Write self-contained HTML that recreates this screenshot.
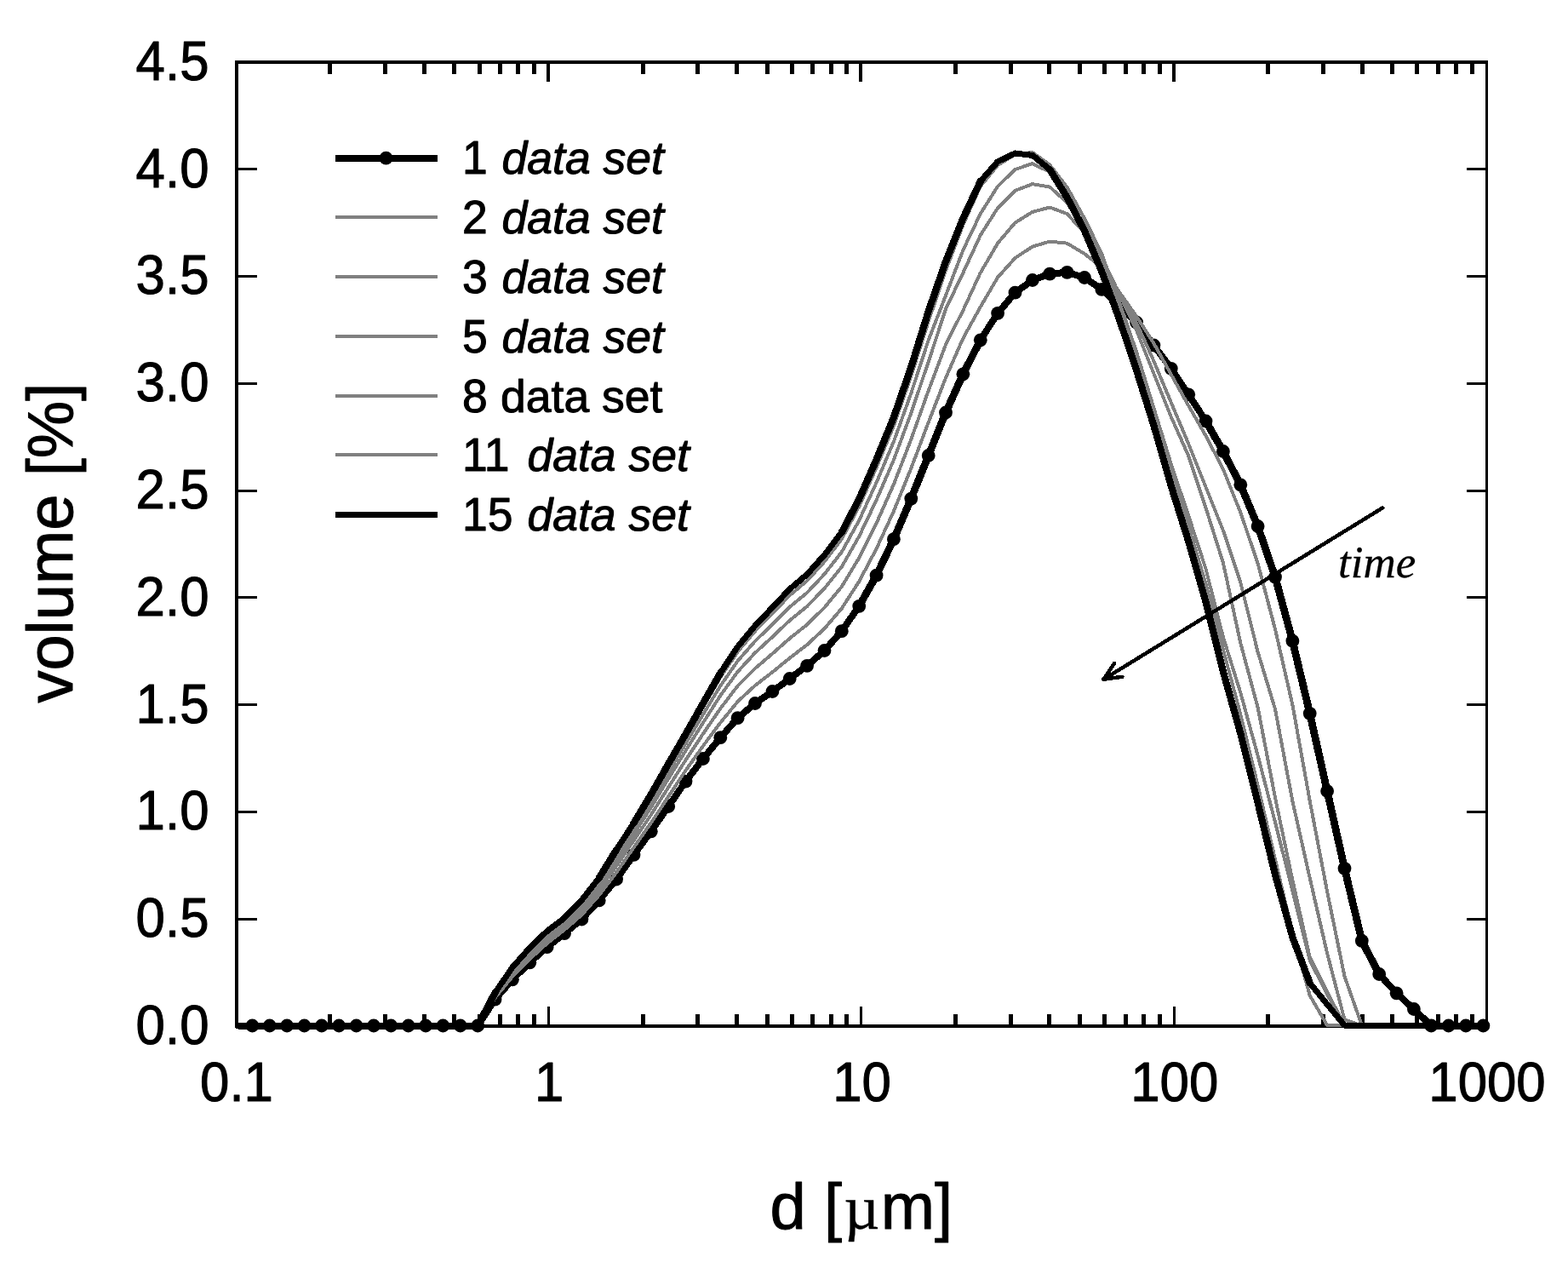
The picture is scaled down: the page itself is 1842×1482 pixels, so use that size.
<!DOCTYPE html>
<html lang="en"><head><meta charset="utf-8"><title>Volume distribution over time</title>
<style>
html,body{margin:0;padding:0;background:#fff;}
body{width:1842px;height:1482px;overflow:hidden;}
svg{display:block;}
text{font-family:"Liberation Sans",sans-serif;fill:#000;stroke:#000;stroke-width:1.0px;stroke-linejoin:round;}
.tk{font-size:61.8px;}
.lg{font-size:53.5px;}
.ti{font-size:76px;}
.it{font-style:italic;}
.tm{font-family:"Liberation Serif",serif;font-style:italic;font-size:53px;stroke-width:0.3px;}
.mu{font-family:"Liberation Serif",serif;stroke-width:0.4px;}
</style></head><body>
<svg width="1842" height="1482" viewBox="0 0 1842 1482">
<rect x="0" y="0" width="1842" height="1482" fill="#fff"/>
<g shape-rendering="crispEdges" fill="#000">
<rect x="276" y="71" width="4" height="1136"/>
<rect x="276" y="71" width="1472" height="4"/>
<rect x="1745" y="71" width="3" height="1136"/>
<rect x="276" y="1203" width="1472" height="4"/>
<rect x="280" y="1078" width="22" height="3"/>
<rect x="1723" y="1078" width="22" height="3"/>
<rect x="280" y="952" width="22" height="3"/>
<rect x="1723" y="952" width="22" height="3"/>
<rect x="280" y="826" width="22" height="3"/>
<rect x="1723" y="826" width="22" height="3"/>
<rect x="280" y="700" width="22" height="3"/>
<rect x="1723" y="700" width="22" height="3"/>
<rect x="280" y="575" width="22" height="3"/>
<rect x="1723" y="575" width="22" height="3"/>
<rect x="280" y="449" width="22" height="3"/>
<rect x="1723" y="449" width="22" height="3"/>
<rect x="280" y="323" width="22" height="3"/>
<rect x="1723" y="323" width="22" height="3"/>
<rect x="280" y="197" width="22" height="3"/>
<rect x="1723" y="197" width="22" height="3"/>
<rect x="643" y="1182" width="3" height="21"/>
<rect x="642" y="75" width="4" height="21"/>
<rect x="1010" y="1182" width="3" height="21"/>
<rect x="1009" y="75" width="4" height="21"/>
<rect x="1378" y="1182" width="3" height="21"/>
<rect x="1377" y="75" width="4" height="21"/>
<rect x="385" y="1191" width="5" height="12"/>
<rect x="385" y="75" width="5" height="12"/>
<rect x="450" y="1191" width="5" height="12"/>
<rect x="450" y="75" width="5" height="12"/>
<rect x="496" y="1191" width="5" height="12"/>
<rect x="496" y="75" width="5" height="12"/>
<rect x="531" y="1191" width="5" height="12"/>
<rect x="531" y="75" width="5" height="12"/>
<rect x="561" y="1191" width="5" height="12"/>
<rect x="561" y="75" width="5" height="12"/>
<rect x="585" y="1191" width="5" height="12"/>
<rect x="585" y="75" width="5" height="12"/>
<rect x="606" y="1191" width="5" height="12"/>
<rect x="606" y="75" width="5" height="12"/>
<rect x="625" y="1191" width="5" height="12"/>
<rect x="625" y="75" width="5" height="12"/>
<rect x="753" y="1191" width="5" height="12"/>
<rect x="753" y="75" width="5" height="12"/>
<rect x="817" y="1191" width="5" height="12"/>
<rect x="817" y="75" width="5" height="12"/>
<rect x="863" y="1191" width="5" height="12"/>
<rect x="863" y="75" width="5" height="12"/>
<rect x="899" y="1191" width="5" height="12"/>
<rect x="899" y="75" width="5" height="12"/>
<rect x="928" y="1191" width="5" height="12"/>
<rect x="928" y="75" width="5" height="12"/>
<rect x="952" y="1191" width="5" height="12"/>
<rect x="952" y="75" width="5" height="12"/>
<rect x="974" y="1191" width="5" height="12"/>
<rect x="974" y="75" width="5" height="12"/>
<rect x="992" y="1191" width="5" height="12"/>
<rect x="992" y="75" width="5" height="12"/>
<rect x="1120" y="1191" width="5" height="12"/>
<rect x="1120" y="75" width="5" height="12"/>
<rect x="1185" y="1191" width="5" height="12"/>
<rect x="1185" y="75" width="5" height="12"/>
<rect x="1230" y="1191" width="5" height="12"/>
<rect x="1230" y="75" width="5" height="12"/>
<rect x="1266" y="1191" width="5" height="12"/>
<rect x="1266" y="75" width="5" height="12"/>
<rect x="1295" y="1191" width="5" height="12"/>
<rect x="1295" y="75" width="5" height="12"/>
<rect x="1320" y="1191" width="5" height="12"/>
<rect x="1320" y="75" width="5" height="12"/>
<rect x="1341" y="1191" width="5" height="12"/>
<rect x="1341" y="75" width="5" height="12"/>
<rect x="1360" y="1191" width="5" height="12"/>
<rect x="1360" y="75" width="5" height="12"/>
<rect x="1487" y="1191" width="5" height="12"/>
<rect x="1487" y="75" width="5" height="12"/>
<rect x="1552" y="1191" width="5" height="12"/>
<rect x="1552" y="75" width="5" height="12"/>
<rect x="1598" y="1191" width="5" height="12"/>
<rect x="1598" y="75" width="5" height="12"/>
<rect x="1633" y="1191" width="5" height="12"/>
<rect x="1633" y="75" width="5" height="12"/>
<rect x="1662" y="1191" width="5" height="12"/>
<rect x="1662" y="75" width="5" height="12"/>
<rect x="1687" y="1191" width="5" height="12"/>
<rect x="1687" y="75" width="5" height="12"/>
<rect x="1708" y="1191" width="5" height="12"/>
<rect x="1708" y="75" width="5" height="12"/>
<rect x="1727" y="1191" width="5" height="12"/>
<rect x="1727" y="75" width="5" height="12"/>
</g>
<g shape-rendering="crispEdges">
<polyline points="280.0,1204.5 296.4,1204.5 316.8,1204.5 337.1,1204.5 357.5,1204.5 377.9,1204.5 398.2,1204.5 418.6,1204.5 439.0,1204.5 459.3,1204.5 479.7,1204.5 500.1,1204.5 520.4,1204.5 540.8,1204.5 561.2,1204.5 581.5,1173.7 601.9,1150.3 622.3,1130.3 642.6,1112.2 663.0,1096.2 683.4,1079.5 703.7,1057.4 724.1,1032.5 744.5,1003.8 764.8,976.3 785.2,947.0 805.5,917.6 825.9,891.0 846.3,866.2 866.6,843.2 887.0,826.0 907.4,812.0 927.7,797.0 948.1,781.8 968.5,764.0 988.8,741.2 1009.2,711.8 1029.6,675.7 1049.9,633.2 1070.3,585.6 1090.7,535.0 1111.0,484.5 1131.4,439.3 1151.8,399.3 1172.1,367.8 1192.5,343.7 1212.9,329.0 1233.2,321.6 1253.6,319.8 1274.0,326.0 1294.3,339.8 1314.7,358.3 1335.1,378.7 1355.4,405.5 1375.8,432.8 1396.2,463.3 1416.5,494.5 1436.9,530.0 1457.3,569.3 1477.6,618.0 1498.0,677.6 1518.4,752.7 1538.7,837.8 1559.1,929.0 1579.5,1019.8 1599.8,1104.8 1620.2,1144.0 1640.6,1166.3 1660.9,1185.0 1681.3,1204.5 1701.7,1204.5 1722.0,1204.5 1742.4,1204.5" fill="none" stroke="#000" stroke-width="8" stroke-linejoin="round" stroke-linecap="round"/>
<polyline points="1009.2,711.8 1029.6,675.7 1049.9,633.2 1070.3,585.6 1090.7,535.0 1111.0,484.5 1131.4,439.3 1151.8,399.3" fill="none" stroke="#000" stroke-width="8.8" stroke-linejoin="round" stroke-linecap="round"/>
<polyline points="1416.5,494.5 1436.9,530.0 1457.3,569.3 1477.6,618.0 1498.0,677.6 1518.4,752.7 1538.7,837.8 1559.1,929.0 1579.5,1019.8 1599.8,1104.8 1620.2,1144.0" fill="none" stroke="#000" stroke-width="8.8" stroke-linejoin="round" stroke-linecap="round"/>
<g fill="#000" shape-rendering="geometricPrecision">
<circle cx="296.4" cy="1204.5" r="7.9"/>
<circle cx="316.8" cy="1204.5" r="7.9"/>
<circle cx="337.1" cy="1204.5" r="7.9"/>
<circle cx="357.5" cy="1204.5" r="7.9"/>
<circle cx="377.9" cy="1204.5" r="7.9"/>
<circle cx="398.2" cy="1204.5" r="7.9"/>
<circle cx="418.6" cy="1204.5" r="7.9"/>
<circle cx="439.0" cy="1204.5" r="7.9"/>
<circle cx="459.3" cy="1204.5" r="7.9"/>
<circle cx="479.7" cy="1204.5" r="7.9"/>
<circle cx="500.1" cy="1204.5" r="7.9"/>
<circle cx="520.4" cy="1204.5" r="7.9"/>
<circle cx="540.8" cy="1204.5" r="7.9"/>
<circle cx="561.2" cy="1204.5" r="7.9"/>
<circle cx="581.5" cy="1173.7" r="7.9"/>
<circle cx="601.9" cy="1150.3" r="7.9"/>
<circle cx="622.3" cy="1130.3" r="7.9"/>
<circle cx="642.6" cy="1112.2" r="7.9"/>
<circle cx="663.0" cy="1096.2" r="7.9"/>
<circle cx="683.4" cy="1079.5" r="7.9"/>
<circle cx="703.7" cy="1057.4" r="7.9"/>
<circle cx="724.1" cy="1032.5" r="7.9"/>
<circle cx="744.5" cy="1003.8" r="7.9"/>
<circle cx="764.8" cy="976.3" r="7.9"/>
<circle cx="785.2" cy="947.0" r="7.9"/>
<circle cx="805.5" cy="917.6" r="7.9"/>
<circle cx="825.9" cy="891.0" r="7.9"/>
<circle cx="846.3" cy="866.2" r="7.9"/>
<circle cx="866.6" cy="843.2" r="7.9"/>
<circle cx="887.0" cy="826.0" r="7.9"/>
<circle cx="907.4" cy="812.0" r="7.9"/>
<circle cx="927.7" cy="797.0" r="7.9"/>
<circle cx="948.1" cy="781.8" r="7.9"/>
<circle cx="968.5" cy="764.0" r="7.9"/>
<circle cx="988.8" cy="741.2" r="7.9"/>
<circle cx="1009.2" cy="711.8" r="7.9"/>
<circle cx="1029.6" cy="675.7" r="7.9"/>
<circle cx="1049.9" cy="633.2" r="7.9"/>
<circle cx="1070.3" cy="585.6" r="7.9"/>
<circle cx="1090.7" cy="535.0" r="7.9"/>
<circle cx="1111.0" cy="484.5" r="7.9"/>
<circle cx="1131.4" cy="439.3" r="7.9"/>
<circle cx="1151.8" cy="399.3" r="7.9"/>
<circle cx="1172.1" cy="367.8" r="7.9"/>
<circle cx="1192.5" cy="343.7" r="7.9"/>
<circle cx="1212.9" cy="329.0" r="7.9"/>
<circle cx="1233.2" cy="321.6" r="7.9"/>
<circle cx="1253.6" cy="319.8" r="7.9"/>
<circle cx="1274.0" cy="326.0" r="7.9"/>
<circle cx="1294.3" cy="339.8" r="7.9"/>
<circle cx="1314.7" cy="358.3" r="7.9"/>
<circle cx="1335.1" cy="378.7" r="7.9"/>
<circle cx="1355.4" cy="405.5" r="7.9"/>
<circle cx="1375.8" cy="432.8" r="7.9"/>
<circle cx="1396.2" cy="463.3" r="7.9"/>
<circle cx="1416.5" cy="494.5" r="7.9"/>
<circle cx="1436.9" cy="530.0" r="7.9"/>
<circle cx="1457.3" cy="569.3" r="7.9"/>
<circle cx="1477.6" cy="618.0" r="7.9"/>
<circle cx="1498.0" cy="677.6" r="7.9"/>
<circle cx="1518.4" cy="752.7" r="7.9"/>
<circle cx="1538.7" cy="837.8" r="7.9"/>
<circle cx="1559.1" cy="929.0" r="7.9"/>
<circle cx="1579.5" cy="1019.8" r="7.9"/>
<circle cx="1599.8" cy="1104.8" r="7.9"/>
<circle cx="1620.2" cy="1144.0" r="7.9"/>
<circle cx="1640.6" cy="1166.3" r="7.9"/>
<circle cx="1660.9" cy="1185.0" r="7.9"/>
<circle cx="1681.3" cy="1204.5" r="7.9"/>
<circle cx="1701.7" cy="1204.5" r="7.9"/>
<circle cx="1722.0" cy="1204.5" r="7.9"/>
<circle cx="1742.4" cy="1204.5" r="7.9"/>
</g>
<polyline points="296.4,1204.5 316.8,1204.5 337.1,1204.5 357.5,1204.5 377.9,1204.5 398.2,1204.5 418.6,1204.5 439.0,1204.5 459.3,1204.5 479.7,1204.5 500.1,1204.5 520.4,1204.5 540.8,1204.5 561.2,1204.5 581.5,1171.9 601.9,1147.0 622.3,1126.3 642.6,1107.9 663.0,1092.0 683.4,1074.3 703.7,1051.3 724.1,1024.6 744.5,995.2 764.8,966.3 785.2,935.5 805.5,904.8 825.9,876.0 846.3,848.7 866.6,823.9 887.0,805.0 907.4,789.3 927.7,772.8 948.1,757.1 968.5,738.2 988.8,714.5 1009.2,682.9 1029.6,644.4 1049.9,600.3 1070.3,550.0 1090.7,496.0 1111.0,443.7 1131.4,397.2 1151.8,360.4 1172.1,325.7 1192.5,303.0 1212.9,289.6 1233.2,283.6 1253.6,285.7 1274.0,298.0 1294.3,314.0 1314.7,342.6 1335.1,371.5 1355.4,403.2 1375.8,439.8 1396.2,476.4 1416.5,511.7 1436.9,551.0 1457.3,601.8 1477.6,661.6 1498.0,738.9 1518.4,827.9 1538.7,940.4 1559.1,1047.0 1579.5,1146.5 1599.8,1204.0 1620.2,1204.5 1640.6,1204.5 1660.9,1204.5 1681.3,1204.5 1701.7,1204.5 1722.0,1204.5 1742.4,1204.5" fill="none" stroke="#808080" stroke-width="4" stroke-linejoin="round" stroke-linecap="round"/>
<polyline points="296.4,1204.5 316.8,1204.5 337.1,1204.5 357.5,1204.5 377.9,1204.5 398.2,1204.5 418.6,1204.5 439.0,1204.5 459.3,1204.5 479.7,1204.5 500.1,1204.5 520.4,1204.5 540.8,1204.5 561.2,1204.5 581.5,1170.2 601.9,1143.9 622.3,1122.5 642.6,1103.8 663.0,1088.0 683.4,1069.4 703.7,1045.5 724.1,1017.0 744.5,987.0 764.8,956.8 785.2,924.5 805.5,892.6 825.9,861.8 846.3,832.0 866.6,805.5 887.0,785.0 907.4,767.6 927.7,749.7 948.1,733.5 968.5,713.5 988.8,688.9 1009.2,655.2 1029.6,614.4 1049.9,568.8 1070.3,516.0 1090.7,458.7 1111.0,404.6 1131.4,364.4 1151.8,320.3 1172.1,285.6 1192.5,261.5 1212.9,248.9 1233.2,243.5 1253.6,251.1 1274.0,273.4 1294.3,308.0 1314.7,343.4 1335.1,379.1 1355.4,423.9 1375.8,472.8 1396.2,521.1 1416.5,571.9 1436.9,622.9 1457.3,684.1 1477.6,765.6 1498.0,832.7 1518.4,941.0 1538.7,1031.0 1559.1,1119.5 1579.5,1197.4 1599.8,1204.5 1620.2,1204.5 1640.6,1204.5 1660.9,1204.5 1681.3,1204.5 1701.7,1204.5 1722.0,1204.5 1742.4,1204.5" fill="none" stroke="#808080" stroke-width="4" stroke-linejoin="round" stroke-linecap="round"/>
<polyline points="296.4,1204.5 316.8,1204.5 337.1,1204.5 357.5,1204.5 377.9,1204.5 398.2,1204.5 418.6,1204.5 439.0,1204.5 459.3,1204.5 479.7,1204.5 500.1,1204.5 520.4,1204.5 540.8,1204.5 561.2,1204.5 581.5,1168.7 601.9,1141.0 622.3,1119.1 642.6,1100.0 663.0,1084.4 683.4,1064.9 703.7,1040.2 724.1,1010.1 744.5,979.6 764.8,948.2 785.2,914.5 805.5,881.5 825.9,848.8 846.3,816.8 866.6,788.8 887.0,766.7 907.4,747.9 927.7,728.6 948.1,712.1 968.5,691.0 988.8,665.7 1009.2,630.0 1029.6,587.2 1049.9,540.1 1070.3,485.1 1090.7,424.8 1111.0,363.0 1131.4,320.3 1151.8,276.2 1172.1,244.2 1192.5,223.9 1212.9,216.1 1233.2,219.5 1253.6,238.0 1274.0,262.0 1294.3,302.0 1314.7,344.8 1335.1,388.0 1355.4,438.8 1375.8,489.6 1396.2,535.4 1416.5,596.4 1436.9,660.9 1457.3,755.2 1477.6,830.7 1498.0,936.8 1518.4,1033.7 1538.7,1124.1 1559.1,1164.9 1579.5,1204.0 1599.8,1204.5 1620.2,1204.5 1640.6,1204.5 1660.9,1204.5 1681.3,1204.5 1701.7,1204.5 1722.0,1204.5 1742.4,1204.5" fill="none" stroke="#808080" stroke-width="4" stroke-linejoin="round" stroke-linecap="round"/>
<polyline points="296.4,1204.5 316.8,1204.5 337.1,1204.5 357.5,1204.5 377.9,1204.5 398.2,1204.5 418.6,1204.5 439.0,1204.5 459.3,1204.5 479.7,1204.5 500.1,1204.5 520.4,1204.5 540.8,1204.5 561.2,1204.5 581.5,1167.5 601.9,1138.9 622.3,1116.5 642.6,1097.2 663.0,1081.6 683.4,1061.5 703.7,1036.3 724.1,1004.9 744.5,974.0 764.8,941.7 785.2,907.0 805.5,873.1 825.9,839.0 846.3,805.4 866.6,776.2 887.0,753.0 907.4,733.1 927.7,712.8 948.1,696.0 968.5,674.2 988.8,648.2 1009.2,611.2 1029.6,566.7 1049.9,518.6 1070.3,461.9 1090.7,399.4 1111.0,347.0 1131.4,293.6 1151.8,250.9 1172.1,218.8 1192.5,199.0 1212.9,192.1 1233.2,202.0 1253.6,222.0 1274.0,257.0 1294.3,298.5 1314.7,353.8 1335.1,413.2 1355.4,479.0 1375.8,545.1 1396.2,605.6 1416.5,668.1 1436.9,748.1 1457.3,813.4 1477.6,887.2 1498.0,965.5 1518.4,1046.5 1538.7,1127.6 1559.1,1167.9 1579.5,1204.1 1599.8,1204.5 1620.2,1204.5 1640.6,1204.5 1660.9,1204.5 1681.3,1204.5 1701.7,1204.5 1722.0,1204.5 1742.4,1204.5" fill="none" stroke="#808080" stroke-width="4" stroke-linejoin="round" stroke-linecap="round"/>
<polyline points="296.4,1204.5 316.8,1204.5 337.1,1204.5 357.5,1204.5 377.9,1204.5 398.2,1204.5 418.6,1204.5 439.0,1204.5 459.3,1204.5 479.7,1204.5 500.1,1204.5 520.4,1204.5 540.8,1204.5 561.2,1204.5 581.5,1166.5 601.9,1137.0 622.3,1114.2 642.6,1094.8 663.0,1079.3 683.4,1058.6 703.7,1032.8 724.1,1000.4 744.5,969.1 764.8,936.0 785.2,900.5 805.5,865.9 825.9,830.5 846.3,795.5 866.6,765.4 887.0,741.2 907.4,720.3 927.7,699.2 948.1,682.0 968.5,659.6 988.8,633.1 1009.2,594.8 1029.6,549.0 1049.9,500.0 1070.3,441.8 1090.7,377.4 1111.0,317.7 1131.4,264.0 1151.8,218.8 1172.1,194.0 1192.5,181.4 1212.9,179.0 1233.2,193.5 1253.6,220.0 1274.0,256.5 1294.3,298.0 1314.7,358.9 1335.1,421.7 1355.4,485.8 1375.8,552.4 1396.2,617.7 1416.5,685.5 1436.9,762.9 1457.3,839.0 1477.6,922.4 1498.0,1009.3 1518.4,1096.0 1538.7,1169.0 1559.1,1204.1 1579.5,1204.5 1599.8,1204.5 1620.2,1204.5 1640.6,1204.5 1660.9,1204.5 1681.3,1204.5 1701.7,1204.5 1722.0,1204.5 1742.4,1204.5" fill="none" stroke="#808080" stroke-width="4" stroke-linejoin="round" stroke-linecap="round"/>
<polyline points="296.4,1204.5 316.8,1204.5 337.1,1204.5 357.5,1204.5 377.9,1204.5 398.2,1204.5 418.6,1204.5 439.0,1204.5 459.3,1204.5 479.7,1204.5 500.1,1204.5 520.4,1204.5 540.8,1204.5 561.2,1204.5 581.5,1166.0 601.9,1136.0 622.3,1113.0 642.6,1093.5 663.0,1078.0 683.4,1057.0 703.7,1031.0 724.1,998.0 744.5,966.5 764.8,933.0 785.2,897.0 805.5,862.0 825.9,826.0 846.3,790.2 866.6,759.5 887.0,734.8 907.4,713.4 927.7,691.8 948.1,674.5 968.5,651.7 988.8,625.0 1009.2,586.0 1029.6,539.5 1049.9,490.0 1070.3,431.0 1090.7,365.5 1111.0,307.0 1131.4,256.2 1151.8,212.8 1172.1,189.7 1192.5,180.0 1212.9,182.4 1233.2,199.0 1253.6,232.0 1274.0,271.0 1294.3,319.0 1314.7,374.2 1335.1,434.9 1355.4,499.7 1375.8,570.9 1396.2,635.9 1416.5,706.9 1436.9,788.7 1457.3,861.5 1477.6,942.8 1498.0,1027.2 1518.4,1100.6 1538.7,1154.3 1559.1,1179.4 1579.5,1204.2 1599.8,1204.5 1620.2,1204.5 1640.6,1204.5 1660.9,1204.5 1681.3,1204.5 1701.7,1204.5 1722.0,1204.5 1742.4,1204.5" fill="none" stroke="#000" stroke-width="7" stroke-linejoin="round" stroke-linecap="round"/>
<polyline points="561.2,1204.5 581.5,1166.0" fill="none" stroke="#000" stroke-width="8.2" stroke-linejoin="round" stroke-linecap="round"/>
<polyline points="703.7,1031.0 724.1,998.0" fill="none" stroke="#000" stroke-width="8.2" stroke-linejoin="round" stroke-linecap="round"/>
<polyline points="744.5,966.5 764.8,933.0 785.2,897.0 805.5,862.0 825.9,826.0 846.3,790.2" fill="none" stroke="#000" stroke-width="8.2" stroke-linejoin="round" stroke-linecap="round"/>
<polyline points="988.8,625.0 1009.2,586.0 1029.6,539.5 1049.9,490.0 1070.3,431.0 1090.7,365.5 1111.0,307.0 1131.4,256.2 1151.8,212.8" fill="none" stroke="#000" stroke-width="8.2" stroke-linejoin="round" stroke-linecap="round"/>
<polyline points="1233.2,199.0 1253.6,232.0 1274.0,271.0 1294.3,319.0 1314.7,374.2 1335.1,434.9 1355.4,499.7 1375.8,570.9 1396.2,635.9 1416.5,706.9 1436.9,788.7 1457.3,861.5 1477.6,942.8 1498.0,1027.2 1518.4,1100.6 1538.7,1154.3" fill="none" stroke="#000" stroke-width="8.2" stroke-linejoin="round" stroke-linecap="round"/>
</g>
<g stroke="#000" stroke-width="4.5" fill="none" stroke-linecap="round" stroke-linejoin="round" shape-rendering="crispEdges">
<line x1="1624.2" y1="596.4" x2="1296.5" y2="797.7"/>
<polyline points="1309,779 1296.5,797.7 1318.4,794.8"/>
</g>
<text class="tm" x="1572" y="677.5">time</text>
<g shape-rendering="crispEdges">
<rect x="394" y="182" width="120" height="8" fill="#000"/>
<rect x="394" y="253" width="120" height="4" fill="#808080"/>
<rect x="394" y="323" width="120" height="4" fill="#808080"/>
<rect x="394" y="393" width="120" height="4" fill="#808080"/>
<rect x="394" y="463" width="120" height="4" fill="#808080"/>
<rect x="394" y="532" width="120" height="4" fill="#808080"/>
<rect x="394" y="601" width="120" height="7" fill="#000"/>
</g>
<circle cx="453.5" cy="185.7" r="7.9" fill="#000"/>
<g><text class="lg" transform="translate(543,204.3) scale(1,1.045)">1</text> <text class="lg it" x="589.6" y="204.3">data set</text></g>
<g><text class="lg" transform="translate(543,274.0) scale(1,1.045)">2</text> <text class="lg it" x="589.6" y="274.0">data set</text></g>
<g><text class="lg" transform="translate(543,344.0) scale(1,1.045)">3</text> <text class="lg it" x="589.6" y="344.0">data set</text></g>
<g><text class="lg" transform="translate(543,413.9) scale(1,1.045)">5</text> <text class="lg it" x="589.6" y="413.9">data set</text></g>
<g><text class="lg" transform="translate(543,483.7) scale(1,1.045)">8</text> <text class="lg" x="588.1" y="483.7">data set</text></g>
<g><text class="lg" transform="translate(543,552.6) scale(1,1.045)">11</text> <text class="lg it" x="619.4" y="552.6">data set</text></g>
<g><text class="lg" transform="translate(543,623.0) scale(1,1.045)">15</text> <text class="lg it" x="619.4" y="623.0">data set</text></g>
<text class="tk" text-anchor="end" transform="translate(245.5,1225.8) scale(1,1.045)">0.0</text>
<text class="tk" text-anchor="end" transform="translate(245.5,1100.0) scale(1,1.045)">0.5</text>
<text class="tk" text-anchor="end" transform="translate(245.5,974.2) scale(1,1.045)">1.0</text>
<text class="tk" text-anchor="end" transform="translate(245.5,848.5) scale(1,1.045)">1.5</text>
<text class="tk" text-anchor="end" transform="translate(245.5,722.7) scale(1,1.045)">2.0</text>
<text class="tk" text-anchor="end" transform="translate(245.5,596.9) scale(1,1.045)">2.5</text>
<text class="tk" text-anchor="end" transform="translate(245.5,471.1) scale(1,1.045)">3.0</text>
<text class="tk" text-anchor="end" transform="translate(245.5,345.4) scale(1,1.045)">3.5</text>
<text class="tk" text-anchor="end" transform="translate(245.5,219.6) scale(1,1.045)">4.0</text>
<text class="tk" text-anchor="end" transform="translate(245.5,93.8) scale(1,1.045)">4.5</text>
<text class="tk" text-anchor="middle" transform="translate(278.0,1292.5) scale(1,1.045)">0.1</text>
<text class="tk" text-anchor="middle" transform="translate(645.2,1292.5) scale(1,1.045)">1</text>
<text class="tk" text-anchor="middle" transform="translate(1012.5,1292.5) scale(1,1.045)">10</text>
<text class="tk" text-anchor="middle" transform="translate(1379.8,1292.5) scale(1,1.045)">100</text>
<text class="tk" text-anchor="middle" transform="translate(1747.0,1292.5) scale(1,1.045)">1000</text>
<text class="ti" text-anchor="middle" transform="translate(85,637.5) rotate(-90)">volume [%]</text>
<text class="ti" x="904.5" y="1443">d [<tspan class="mu" font-size="72.5" dx="2.5">µ</tspan><tspan dx="1.5">m]</tspan></text>
</svg>
</body></html>
